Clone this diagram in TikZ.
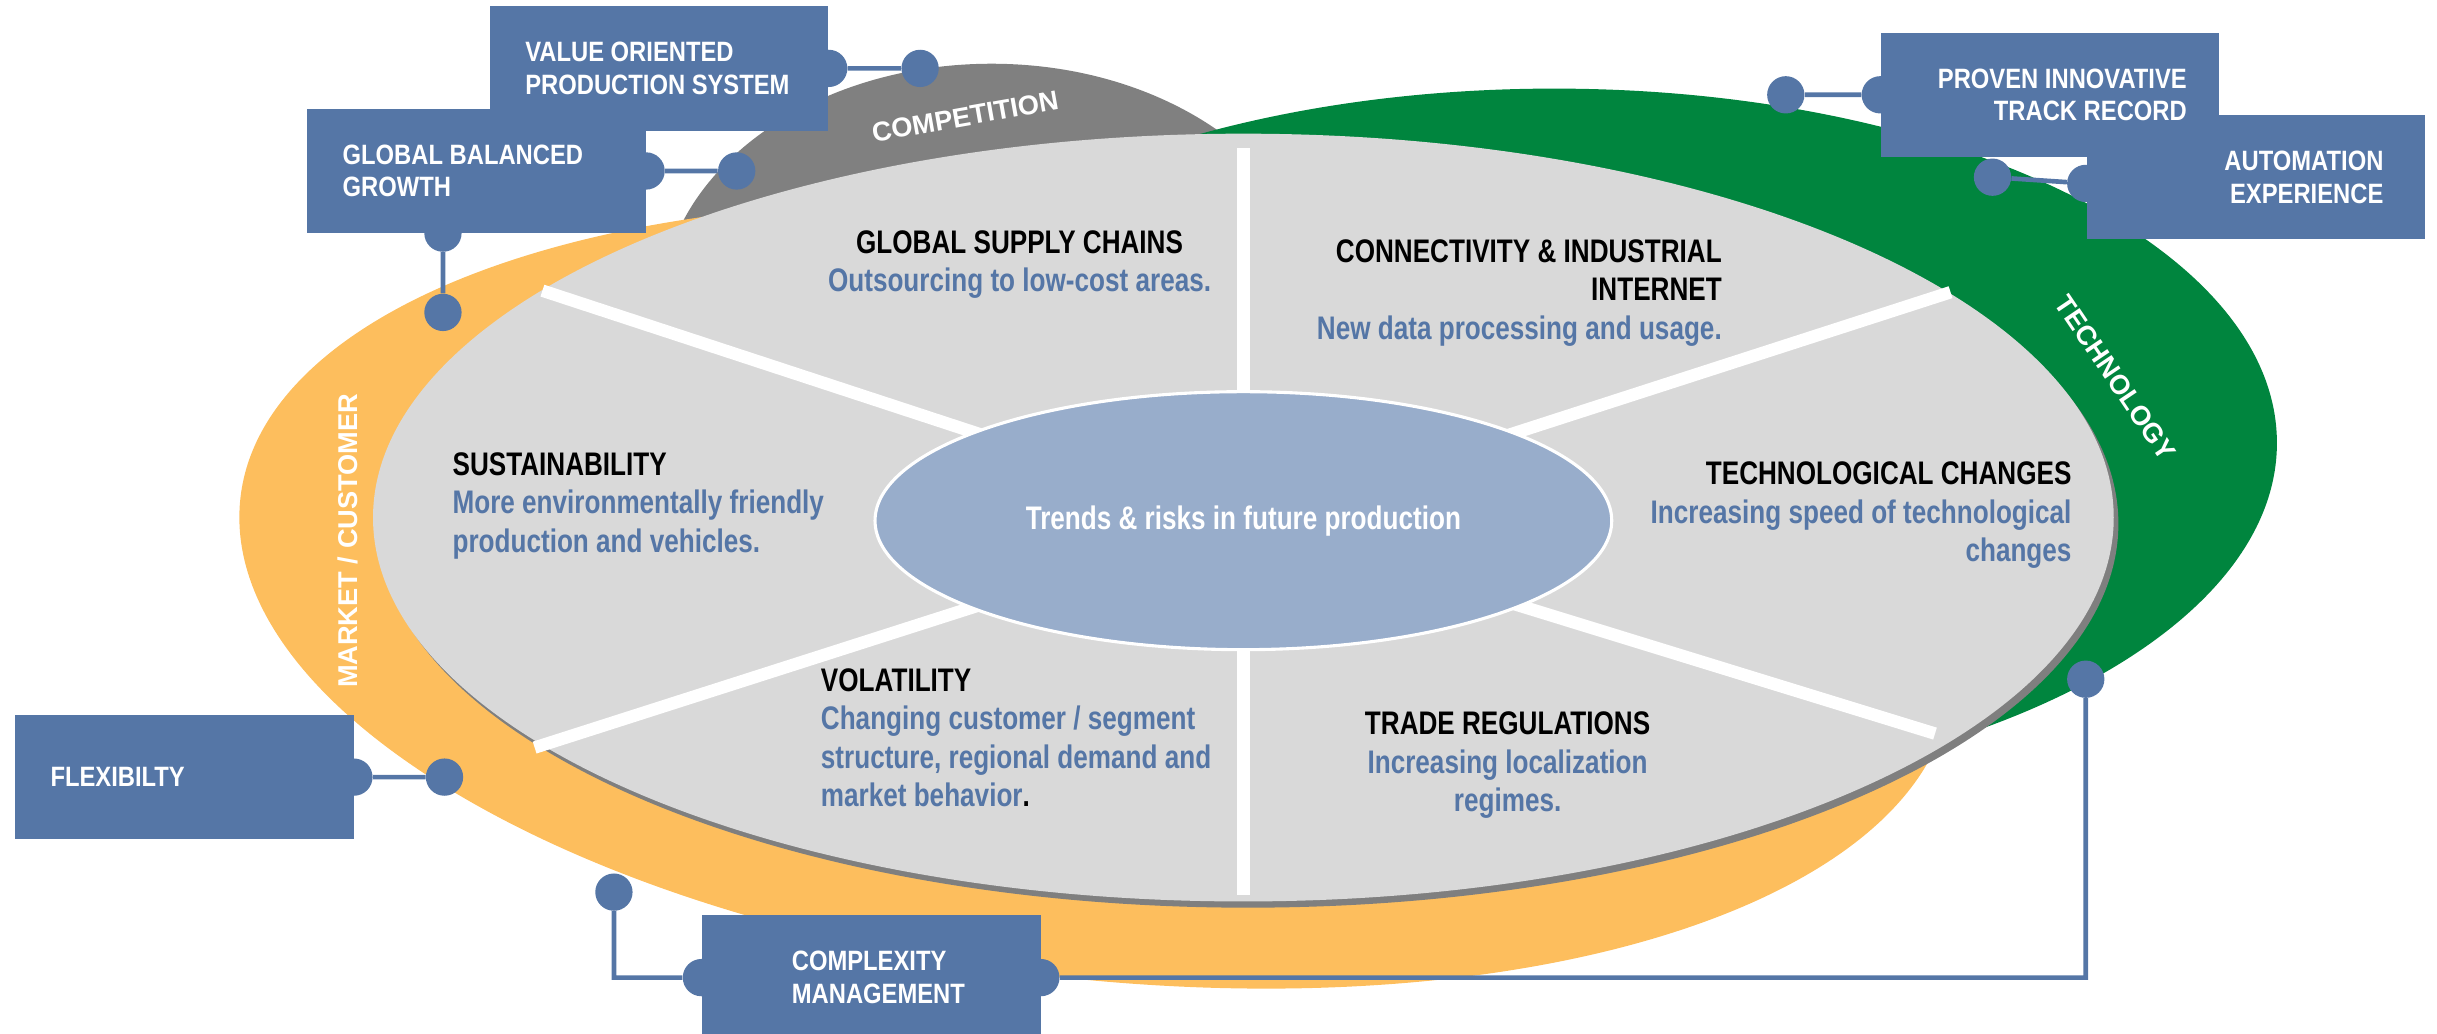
\documentclass[tikz,border=0pt]{standalone}
\usepackage{fontspec}
\setmainfont{Liberation Sans}
\newfontfamily\condfont[FakeStretch=0.8]{Liberation Sans}
\newfontfamily\boxfont[FakeStretch=0.85]{Liberation Sans}
\usetikzlibrary{shapes.geometric}
\definecolor{boxblue}{HTML}{5576A6}
\definecolor{txtblue}{HTML}{5576A6}
\definecolor{ringorange}{HTML}{FDBE5D}
\definecolor{ringgreen}{HTML}{00853E}
\definecolor{ringgray}{HTML}{808080}
\definecolor{discgray}{HTML}{D9D9D9}
\definecolor{rimgray}{HTML}{7F7F7F}
\definecolor{coreblue}{HTML}{98ADCB}
\begin{document}
\begin{tikzpicture}[x=1pt,y=-1pt,
	box/.style={fill=boxblue,text=white,font=\boxfont\bfseries\fontsize{18}{21}\selectfont,
		minimum height=80pt,inner ysep=0pt,inner xsep=23pt,text width=172pt,align=flush left},
	port/.style={circle,fill=boxblue,inner sep=0pt,minimum size=24pt},
	link/.style={draw=boxblue,line width=3pt},
	divider/.style={draw=white,line width=8pt},
	ringlabel/.style={text=white,font=\bfseries\fontsize{17.5}{20}\selectfont},
	trend/.style={text=txtblue,font=\condfont\bfseries\fontsize{21}{24.7}\selectfont,inner sep=0pt}]

\useasboundingbox (0,0) rectangle (1568,665);

\fill[ringgray] (638,200) ellipse [x radius=213,y radius=159];
\fill[ringorange,shift={(705,383)},yslant=-0.091] (0,0) ellipse [x radius=551,y radius=248];
\fill[ringgreen] (1000,285) ellipse [x radius=465,y radius=228];
\fill[rimgray] (803,337) ellipse [x radius=560,y radius=247];
\fill[discgray] (800,333) ellipse [x radius=560,y radius=247];

\foreach \ex/\ey in {800/95,1255/188,1245/472,800/576,344/481,349/187}
	\draw[divider] (800,335) -- (\ex,\ey);

\node[ellipse,fill=coreblue,draw=white,line width=2pt,minimum width=474pt,minimum height=166pt,
	text=white,font=\condfont\bfseries\fontsize{21}{24}\selectfont] (core) at (800,335) {Trends \& risks in future production};

\node[trend,anchor=north,align=center] (supply) at (656,148) {\textcolor{black}{GLOBAL SUPPLY CHAINS}\\Outsourcing to low-cost areas.};
\node[trend,anchor=north east,align=right] (connect) at (1108,154) {\textcolor{black}{CONNECTIVITY \& INDUSTRIAL}\\\textcolor{black}{INTERNET}\\New data processing and usage.};
\node[trend,anchor=north east,align=right] (techchg) at (1333,297) {\textcolor{black}{TECHNOLOGICAL CHANGES}\\Increasing speed of technological\\changes};
\node[trend,anchor=north,align=center] (trade) at (970,458) {\textcolor{black}{TRADE REGULATIONS}\\Increasing localization\\regimes.};
\node[trend,anchor=north west,align=left] (volat) at (528,430) {\textcolor{black}{VOLATILITY}\\Changing customer / segment\\structure, regional demand and\\market behavior\textcolor{black}{.}};
\node[trend,anchor=north west,align=left] (sustain) at (291,291) {\textcolor{black}{SUSTAINABILITY}\\More environmentally friendly\\production and vehicles.};

\node[ringlabel,rotate=10] (lblComp) at (621,75) {COMPETITION};
\node[ringlabel,rotate=-56] (lblTech) at (1361,243) {TECHNOLOGY};
\node[ringlabel,rotate=90] (lblMkt) at (224,348) {MARKET / CUSTOMER};

\node[box] (vops) at (424,44) {VALUE ORIENTED\\PRODUCTION SYSTEM};
\node[port] (vopsR) at (vops.east) {};
\node[box] (gbg) at (306.5,110) {GLOBAL BALANCED\\GROWTH};
\node[port] (gbgR) at (gbg.east) {};
\node[port] (gbgB) at (285,150) {};
\node[box,align=flush right,inner xsep=27pt,text width=164pt] (autx) at (1451.5,114) {AUTOMATION\\EXPERIENCE};
\node[port] (autxL) at (1342,118) {};
\node[box,align=flush right,inner xsep=21pt,text width=176pt] (pitr) at (1319,61) {PROVEN INNOVATIVE\\TRACK RECORD};
\node[port] (pitrL) at (pitr.west) {};
\node[box] (flex) at (118.5,500) {FLEXIBILTY};
\node[port] (flexR) at (flex.east) {};
\node[box,inner xsep=58pt,text width=102pt] (cplx) at (560.5,629) {COMPLEXITY\\MANAGEMENT};
\node[port] (cplxL) at (cplx.west) {};
\node[port] (cplxR) at (cplx.east) {};

\begin{scope}[every node/.style={port}]
	\node (dVops) at (592,44) {};
	\node (dGbgR) at (474,110) {};
	\node (dGbgB) at (285,201) {};
	\node (dPitr) at (1149,61) {};
	\node (dAutx) at (1282,114) {};
	\node (dFlex) at (286,500) {};
	\node (dCplxL) at (395,574) {};
	\node (dCplxR) at (1342,437) {};
\end{scope}

\draw[link] (vopsR) -- (dVops)
	(gbgR) -- (dGbgR)
	(gbgB) -- (dGbgB)
	(pitrL) -- (dPitr)
	(autxL) -- (dAutx)
	(flexR) -- (dFlex)
	(cplxL) -| (dCplxL)
	(cplxR) -| (dCplxR);

\end{tikzpicture}
\end{document}
